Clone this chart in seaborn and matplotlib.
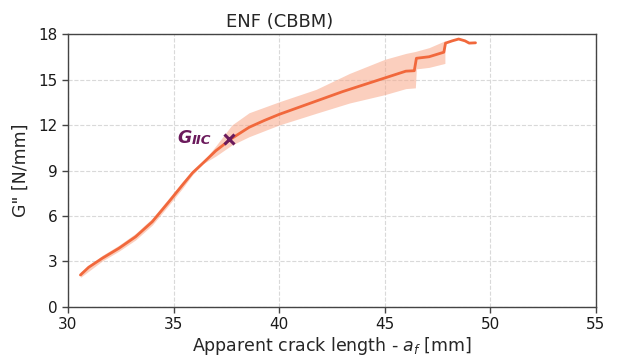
import numpy as np
import pandas as pd
import matplotlib
matplotlib.use("Agg")
import matplotlib.pyplot as plt
import seaborn as sns

# mean curve
crack_len = [30.59, 30.98, 31.62, 32.41, 33.2, 33.99, 34.78, 35.42, 35.9, 36.4,
             37.0, 37.76, 38.58, 39.3, 40.0, 41.0, 42.0, 43.0, 44.0, 45.0,
             46.0, 46.4, 46.5, 47.1, 47.8, 47.88, 48.2, 48.5, 48.8, 49.0, 49.3]
g_mean = [2.11, 2.62, 3.21, 3.87, 4.63, 5.62, 6.94, 8.04, 8.85, 9.5,
          10.3, 11.12, 11.85, 12.3, 12.7, 13.2, 13.7, 14.2, 14.65, 15.1,
          15.55, 15.58, 16.4, 16.5, 16.8, 17.4, 17.55, 17.67, 17.55, 17.4, 17.42]

# scatter band
band_x = [30.59, 31.62, 32.41, 33.2, 33.99, 34.78, 35.42, 35.9, 36.4, 37.0, 37.76,
          38.58, 40.0, 41.75, 43.33, 45.0, 46.0, 46.45, 46.5, 47.1, 47.85]
band_upper = [2.3, 3.4, 4.07, 4.85, 5.85, 7.18, 8.27, 9.0, 9.58, 10.62, 12.0,
              12.81, 13.53, 14.35, 15.4, 16.33, 16.72, 16.85, 16.87, 17.1, 17.55]
band_lower = [1.95, 3.03, 3.68, 4.42, 5.4, 6.72, 7.82, 8.72, 9.45, 9.95, 10.68,
              11.23, 12.0, 12.77, 13.45, 14.0, 14.4, 14.45, 15.7, 15.8, 16.06]

# critical point
gic_x = [37.64]
gic_y = [11.1]

x_ticks = [30, 35, 40, 45, 50, 55]
y_ticks = [0, 3, 6, 9, 12, 15, 18]

sns.set_style("white")
plt.rcParams['font.family'] = ['DejaVu Sans']

fig = plt.figure(figsize=(6.22, 3.63), dpi=100)
ax = fig.add_axes([0.1093, 0.1543, 0.8487, 0.752])

line_color = '#f1683c'
df = pd.DataFrame({'a': crack_len, 'G': g_mean})
ax.fill_between(band_x, band_lower, band_upper, color='#f8a88a', alpha=0.55, lw=0)
sns.lineplot(data=df, x='a', y='G', ax=ax, color=line_color, lw=2, sort=False)
ax.plot(gic_x, gic_y, marker='x', color='#6b1a5c', ms=7, mew=2.2, ls='none', zorder=5)

ax.text(35.16, 10.83, 'G', color='#6b1a5c', fontsize=12.5, fontweight='bold',
        fontstyle='italic', ha='left', va='baseline')
ax.text(35.88, 10.75, 'IIC', color='#6b1a5c', fontsize=9.5, fontweight='bold',
        fontstyle='italic', ha='left', va='baseline')

ax.set_xlim(30, 55)
ax.set_ylim(0, 18)
ax.set_xticks(x_ticks)
ax.set_yticks(y_ticks)
ax.grid(True, ls='--', color='#d9d9d9', lw=0.8)
ax.set_axisbelow(True)
for s in ax.spines.values():
    s.set_color('#444444')
    s.set_linewidth(1.0)
ax.tick_params(axis='both', which='both', direction='out', length=4, width=1,
               color='#444444', labelsize=11, labelcolor='#1a1a1a', left=True, bottom=True)
ax.set_xlabel('Apparent crack length - $a_f$ [mm]', fontsize=12.5, labelpad=2)
ax.set_ylabel('G" [N/mm]', fontsize=12.5, labelpad=6)
ax.set_title('ENF (CBBM)', fontsize=13, x=0.40, pad=5)

fig.savefig('out.png', dpi=100)
